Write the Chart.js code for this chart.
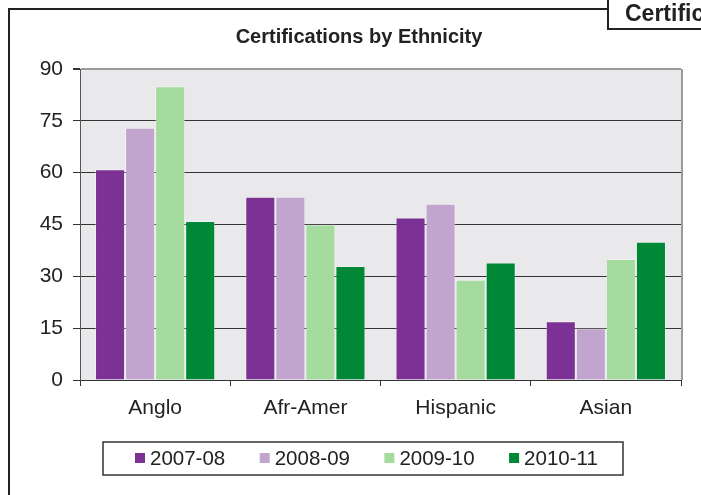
<!DOCTYPE html>
<html lang="en">
<head>
  <meta charset="UTF-8" />
  <title>Certifications by Ethnicity</title>
  <script src="https://cdn.jsdelivr.net/npm/chart.js"></script>
  <style>
    body { margin: 0; background: #fff; }
    #wrap { width: 701px; height: 495px; }
  </style>
</head>
<body>
<div id="wrap"><canvas id="chart" width="701" height="495"></canvas></div>

<script>
const categories = ['Anglo', 'Afr-Amer', 'Hispanic', 'Asian'];
const seriesNames = ['2007-08', '2008-09', '2009-10', '2010-11'];
const s2007 = [61, 53, 47, 17];
const s2008 = [73, 53, 51, 15];
const s2009 = [85, 45, 29, 35];
const s2010 = [46, 33, 34, 40];
const yTicks = [0, 15, 30, 45, 60, 75, 90];

const colors = ['#7b3294', '#c2a5cf', '#a6dba0', '#008837'];
const FONT = '"Liberation Sans", Arial, sans-serif';

// frame, corner box, title, plot background, legend
const decor = {
  id: 'decor',
  beforeDraw(chart) {
    const { ctx, chartArea: a } = chart;
    ctx.save();
    ctx.fillStyle = '#e9e9eb';
    ctx.fillRect(a.left, a.top, a.right - a.left, a.bottom - a.top);
    ctx.restore();
  },
  afterDraw(chart) {
    const { ctx, chartArea: a } = chart;
    ctx.save();
    // right edge of plot
    ctx.strokeStyle = '#9a9a9a';
    ctx.lineWidth = 2;
    ctx.beginPath();
    ctx.moveTo(a.right + 1, a.top);
    ctx.lineTo(a.right + 1, a.bottom);
    ctx.stroke();

    // outer frame
    ctx.strokeStyle = '#222';
    ctx.lineWidth = 2;
    ctx.beginPath();
    ctx.moveTo(9, 495);
    ctx.lineTo(9, 9);
    ctx.lineTo(607, 9);
    ctx.stroke();

    // corner box with clipped heading
    ctx.fillStyle = '#fff';
    ctx.fillRect(608, 0, 93, 28);
    ctx.beginPath();
    ctx.moveTo(608, 0);
    ctx.lineTo(608, 29);
    ctx.lineTo(701, 29);
    ctx.stroke();
    ctx.fillStyle = '#222';
    ctx.font = 'bold 23px ' + FONT;
    ctx.textBaseline = 'alphabetic';
    ctx.textAlign = 'left';
    ctx.fillText('Certifications', 625, 21);

    // title
    ctx.font = 'bold 20px ' + FONT;
    ctx.textAlign = 'center';
    ctx.textBaseline = 'middle';
    ctx.fillText('Certifications by Ethnicity', 359, 37);

    // legend
    ctx.strokeStyle = '#333';
    ctx.lineWidth = 1.5;
    ctx.strokeRect(103, 442, 520, 33);
    ctx.font = '20.5px ' + FONT;
    ctx.textAlign = 'left';
    chart.data.datasets.forEach((ds, i) => {
      const x = 135 + i * 124.7;
      ctx.fillStyle = ds.backgroundColor;
      ctx.fillRect(x, 453, 10, 10);
      ctx.fillStyle = '#222';
      ctx.fillText(ds.label, x + 15, 459);
    });
    ctx.restore();
  }
};

new Chart(document.getElementById('chart').getContext('2d'), {
  type: 'bar',
  data: {
    labels: categories,
    datasets: [s2007, s2008, s2009, s2010].map((d, i) => ({
      label: seriesNames[i],
      data: d,
      backgroundColor: colors[i],
      borderColor: 'rgba(255,255,255,0.35)',
      borderWidth: 1,
      categoryPercentage: 0.8,
      barPercentage: 1.0
    }))
  },
  options: {
    responsive: false,
    animation: false,
    layout: { padding: { left: 0, right: 20, top: 69, bottom: 53 } },
    plugins: {
      legend: { display: false },
      title: { display: false },
      tooltip: { enabled: false }
    },
    scales: {
      x: {
        afterFit(s) { s.height = 62; },
        grid: {
          offset: true,
          drawOnChartArea: false,
          tickLength: 6,
          tickColor: '#333'
        },
        border: { color: '#333', width: 1 },
        ticks: { color: '#222', font: { family: FONT, size: 21 }, padding: 10 }
      },
      y: {
        min: 0,
        max: 90,
        afterFit(s) { s.width = 80; },
        afterBuildTicks(s) { s.ticks = yTicks.map(v => ({ value: v })); },
        grid: {
          color: c => (c.tick && c.tick.value === 90) ? '#9a9a9a' : (c.tick && c.tick.value === 0 ? 'rgba(0,0,0,0)' : '#333'),
          lineWidth: c => (c.tick && c.tick.value === 90) ? 2 : 1,
          tickLength: 7,
          tickColor: '#333'
        },
        border: { color: '#555', width: 1 },
        ticks: { color: '#222', font: { family: FONT, size: 21 }, padding: 10 }
      }
    }
  },
  plugins: [decor]
});
</script>
</body>
</html>
